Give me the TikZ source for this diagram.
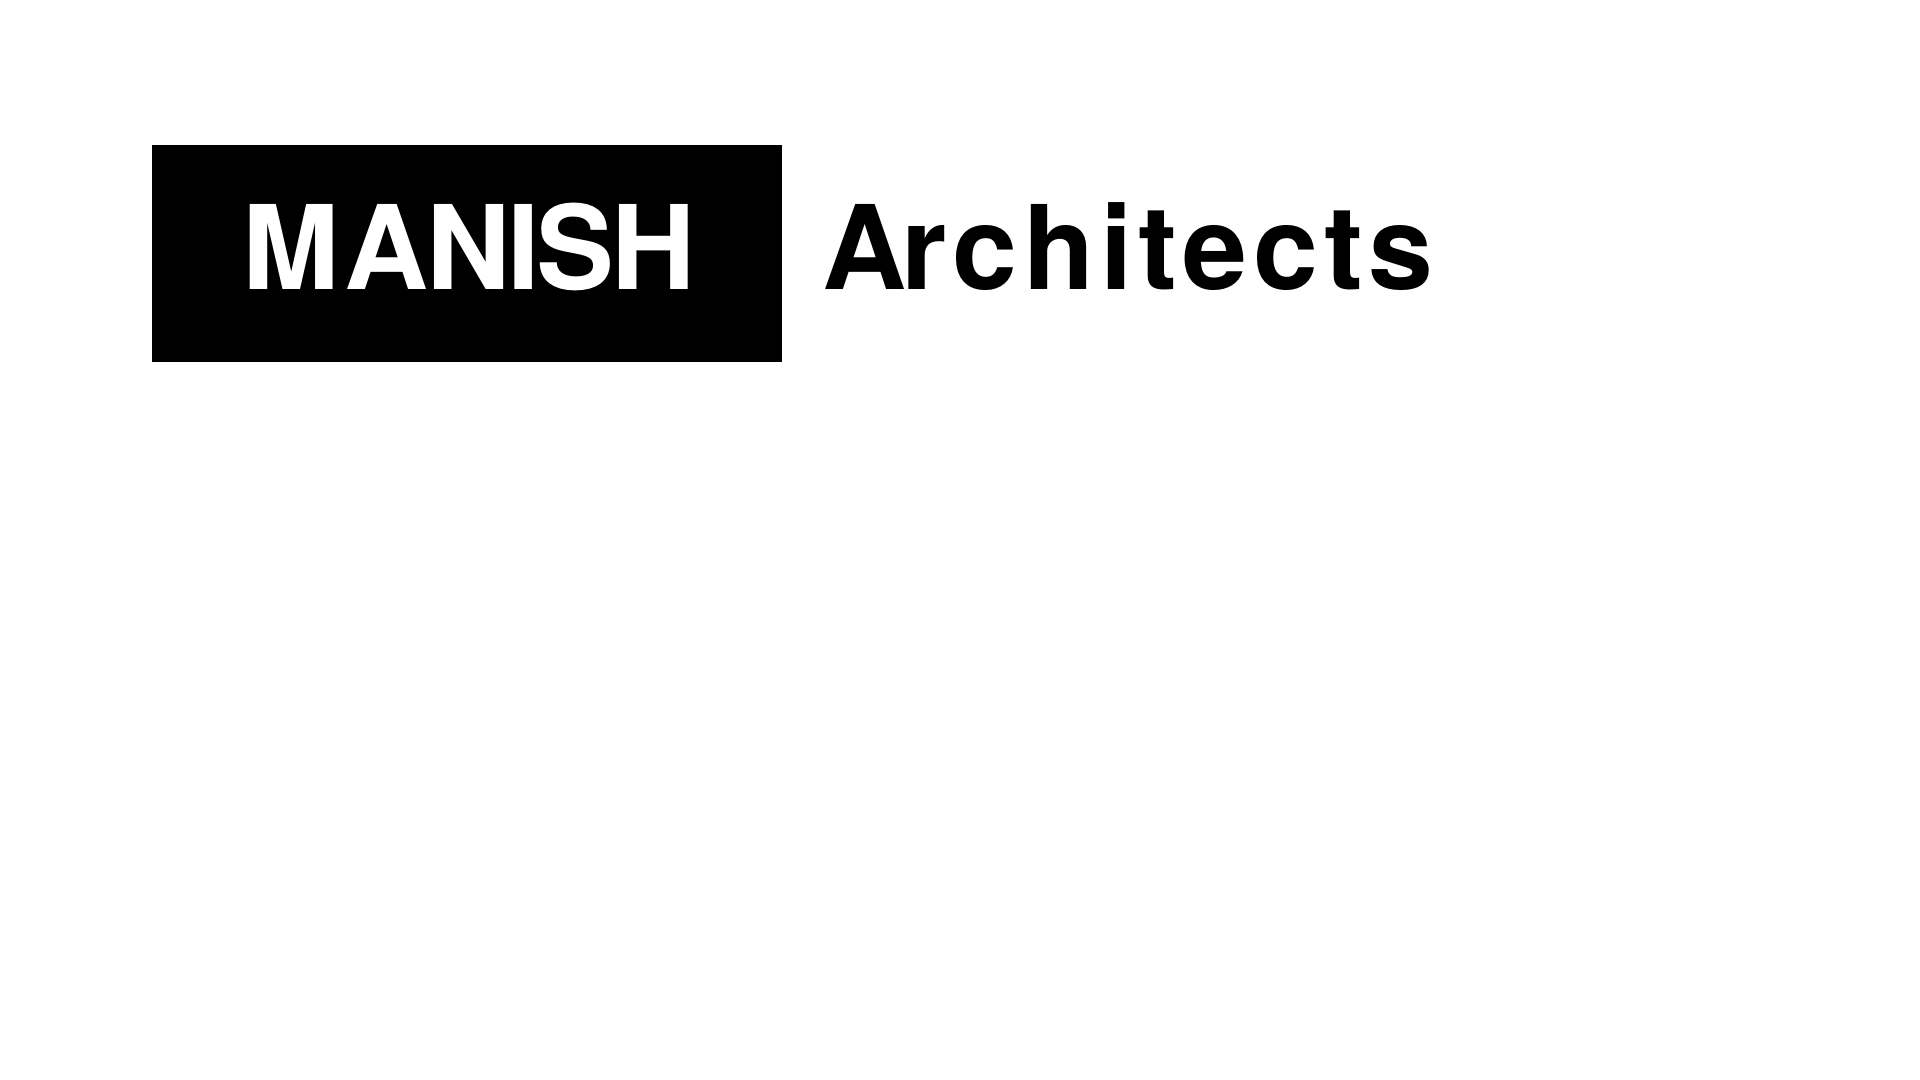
\documentclass[tikz,border=0pt]{standalone}
\usepackage{fontspec}
\setmainfont{TeX Gyre Heros}
\newfontfamily\namefont[LetterSpace=-2.6]{TeX Gyre Heros}
\newfontfamily\wordfont[LetterSpace=5.0]{TeX Gyre Heros}
\usetikzlibrary{positioning}
\begin{document}
\begin{tikzpicture}[
    brandbox/.style={fill=black, minimum width=6.30cm, minimum height=2.17cm, inner sep=0pt},
    brandname/.style={text=white, font=\namefont\bfseries\fontsize{33.2pt}{33.2pt}\selectfont, inner sep=0pt, anchor=base},
    wordmark/.style={text=black, font=\wordfont\bfseries\fontsize{33.2pt}{33.2pt}\selectfont, inner sep=0pt, anchor=base west}
]
    \useasboundingbox (0,0) rectangle (19.2,10.8);

    \node[brandbox] (box) at (4.67,8.265) {};
    \node[brandname] (name) at (4.69,7.905) {M\kern1.5pt ANISH};
    \node[wordmark] (word) at (8.22,7.905) {A\kern-1.6pt rchitects};
\end{tikzpicture}
\end{document}
